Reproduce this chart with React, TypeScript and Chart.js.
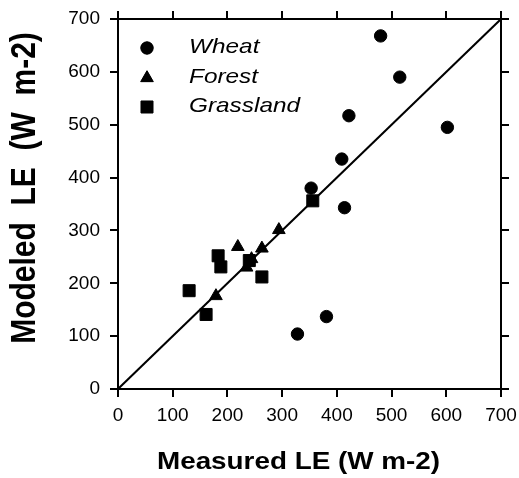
import { useEffect, useRef } from 'react';
import { Chart, registerables } from 'chart.js';
import { drawPoint } from 'chart.js/helpers';

Chart.register(...registerables);

// ---- data ----
const wheatX = [480, 515, 422, 602, 409, 353, 414, 381, 328];
const wheatY = [668, 590, 517, 495, 435, 380, 343, 137, 104];
const forestX = [294, 263, 219, 244, 235, 179];
const forestY = [301, 266, 269, 246, 230, 176];
const grassX = [356, 183, 188, 240, 263, 130, 161];
const grassY = [356, 252, 231, 243, 212, 186, 141];
const oneToOneX = [0, 700];
const oneToOneY = [0, 700];
const axisMin = 0;
const axisMax = 700;
const axisStep = 100;
const seriesNames = ['Wheat', 'Forest', 'Grassland'];
const xTitle = 'Measured LE (W m-2)';
const yTitle = 'Modeled  LE  (W  m-2)';

const pts = (xs: number[], ys: number[]) => xs.map((x, i) => ({ x, y: ys[i] }));

const STRETCH = 1.16;

const decorPlugin = {
  id: 'decor',
  afterDraw(chart: any) {
    const { ctx, chartArea } = chart;
    const { left, top, right, bottom } = chartArea;
    ctx.save();
    ctx.fillStyle = '#000';
    // legend
    const rows = [
      { style: 'circle', r: 6.2, y: 48 },
      { style: 'triangle', r: 7.3, y: 78 },
      { style: 'rect', r: 8.5, y: 107 },
    ];
    rows.forEach((row, i) => {
      ctx.fillStyle = '#000';
      ctx.strokeStyle = '#000';
      ctx.lineWidth = 1;
      drawPoint(ctx, { pointStyle: row.style, radius: row.r, rotation: 0, borderWidth: 1 }, left + 29, top + row.y - 19);
      ctx.fill();
      ctx.save();
      ctx.translate(left + 71, top + row.y - 19 + 5);
      ctx.scale(STRETCH, 1);
      ctx.font = 'italic 21px "Liberation Sans"';
      ctx.textBaseline = 'alphabetic';
      ctx.textAlign = 'left';
      ctx.fillText(seriesNames[i], 0, 0);
      ctx.restore();
    });
    // x title
    ctx.save();
    ctx.translate((left + right) / 2 - 11, 462);
    ctx.scale(STRETCH, 1);
    ctx.font = 'bold 24px "Liberation Sans"';
    ctx.textAlign = 'center';
    ctx.textBaseline = 'middle';
    ctx.fillText(xTitle, 0, 0);
    ctx.restore();
    // y title
    ctx.save();
    ctx.translate(25, (top + bottom) / 2 - 16);
    ctx.scale(STRETCH, 1);
    ctx.rotate(-Math.PI / 2);
    ctx.font = 'bold 30px "Liberation Sans"';
    ctx.textAlign = 'center';
    ctx.textBaseline = 'middle';
    ctx.fillText(yTitle, 0, 0);
    ctx.restore();
    ctx.restore();
  },
};

const gridOpts = {
  display: true,
  drawOnChartArea: false,
  drawTicks: true,
  tickLength: 8,
  lineWidth: 2,
  color: '#000',
};
const borderOpts = { display: true, color: '#000', width: 2 };
const tickFont = { family: '"Liberation Sans"', size: 19 };

const noPad = (s: any) => {
  s.paddingLeft = 0;
  s.paddingRight = 0;
  s.paddingTop = 0;
  s.paddingBottom = 0;
};

export default function App() {
  const canvasRef = useRef<HTMLCanvasElement>(null);

  useEffect(() => {
    if (!canvasRef.current) return;
    const chart = new Chart(canvasRef.current, {
      type: 'scatter',
      data: {
        datasets: [
          {
            label: seriesNames[0],
            data: pts(wheatX, wheatY),
            pointStyle: 'circle',
            pointRadius: 6.2,
            backgroundColor: '#000',
            borderColor: '#000',
            borderWidth: 1,
          },
          {
            label: seriesNames[1],
            data: pts(forestX, forestY),
            pointStyle: 'triangle',
            pointRadius: 7.3,
            backgroundColor: '#000',
            borderColor: '#000',
            borderWidth: 1,
          },
          {
            label: seriesNames[2],
            data: pts(grassX, grassY),
            pointStyle: 'rect',
            pointRadius: 8.5,
            backgroundColor: '#000',
            borderColor: '#000',
            borderWidth: 1,
          },
          {
            type: 'line',
            label: '1:1',
            data: pts(oneToOneX, oneToOneY),
            borderColor: '#000',
            borderWidth: 2,
            pointRadius: 0,
            showLine: true,
            fill: false,
          } as any,
        ],
      },
      options: {
        animation: false,
        responsive: false,
        maintainAspectRatio: false,
        layout: { padding: 0 },
        plugins: {
          legend: { display: false },
          tooltip: { enabled: false },
          title: { display: false },
        },
        scales: {
          x: {
            type: 'linear',
            position: 'bottom',
            min: axisMin,
            max: axisMax,
            ticks: { stepSize: axisStep, color: '#000', font: tickFont, padding: 7, maxRotation: 0, autoSkip: false },
            grid: gridOpts,
            border: borderOpts,
            afterFit: (s: any) => { s.height = 89; noPad(s); },
          },
          x2: {
            type: 'linear',
            position: 'top',
            min: axisMin,
            max: axisMax,
            ticks: { stepSize: axisStep, display: false },
            grid: gridOpts,
            border: borderOpts,
            afterFit: (s: any) => { s.height = 19; noPad(s); },
          },
          y: {
            type: 'linear',
            position: 'left',
            min: axisMin,
            max: axisMax,
            ticks: { stepSize: axisStep, color: '#000', font: tickFont, padding: 10, autoSkip: false },
            grid: gridOpts,
            border: borderOpts,
            afterFit: (s: any) => { s.width = 118; noPad(s); },
          },
          y2: {
            type: 'linear',
            position: 'right',
            min: axisMin,
            max: axisMax,
            ticks: { stepSize: axisStep, display: false },
            grid: gridOpts,
            border: borderOpts,
            afterFit: (s: any) => { s.width = 18; noPad(s); },
          },
        },
      } as any,
      plugins: [decorPlugin],
    });
    return () => chart.destroy();
  }, []);

  return (
    <div style={{ position: 'fixed', left: 0, top: 0, width: 519, height: 478, background: '#fff' }}>
      <canvas ref={canvasRef} width={519} height={478} style={{ width: 519, height: 478 }} />
    </div>
  );
}
